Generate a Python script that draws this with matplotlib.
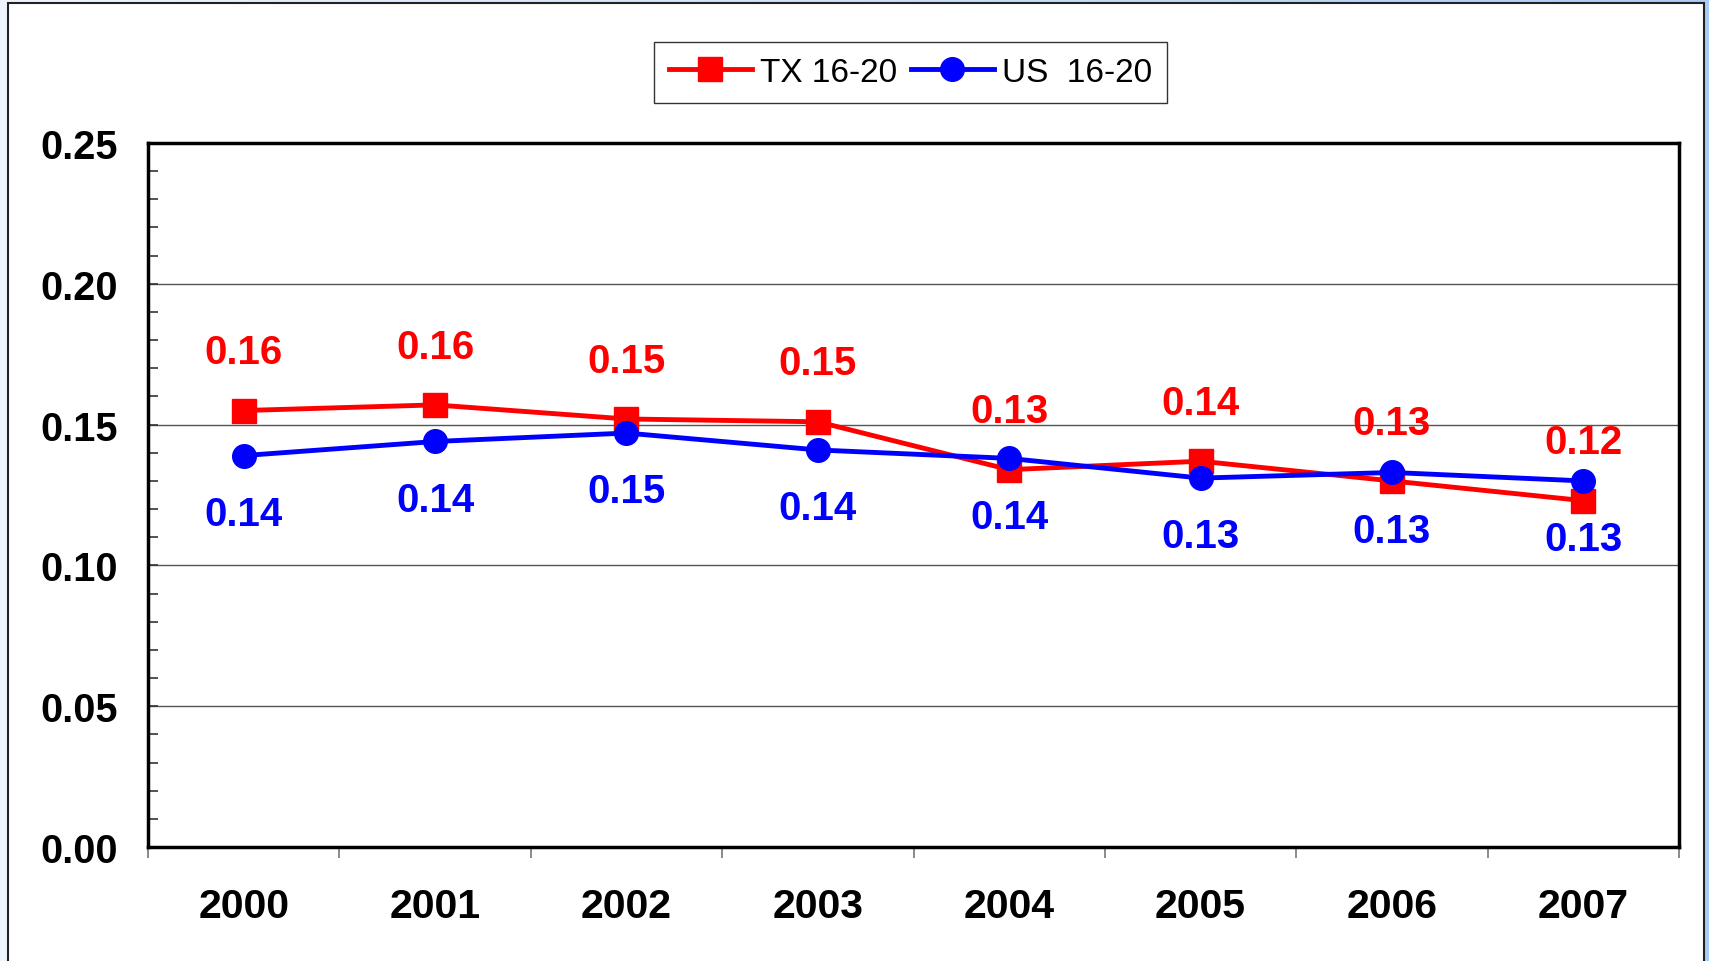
import matplotlib
matplotlib.use("Agg")
import matplotlib.pyplot as plt
import numpy as np
from matplotlib.patches import Rectangle
from matplotlib.colors import LinearSegmentedColormap

plt.rcParams['font.family'] = ['Liberation Sans', 'DejaVu Sans']

years = ['2000', '2001', '2002', '2003', '2004', '2005', '2006', '2007']
tx_values = [0.155, 0.157, 0.152, 0.151, 0.134, 0.137, 0.130, 0.123]
us_values = [0.139, 0.144, 0.147, 0.141, 0.138, 0.131, 0.133, 0.130]
tx_labels = ['0.16', '0.16', '0.15', '0.15', '0.13', '0.14', '0.13', '0.12']
us_labels = ['0.14', '0.14', '0.15', '0.14', '0.14', '0.13', '0.13', '0.13']
y_ticks = [0.00, 0.05, 0.10, 0.15, 0.20, 0.25]
y_tick_labels = ['0.00', '0.05', '0.10', '0.15', '0.20', '0.25']

W, H = 1709, 962
fig = plt.figure(figsize=(W / 100, H / 100), dpi=100)

# background gradient
bg = fig.add_axes([0, 0, 1, 1], zorder=-10)
grad = np.linspace(0, 1, 256).reshape(1, -1)
cmap = LinearSegmentedColormap.from_list('bg', ['#eef4fd', '#a9cdf7'])
bg.imshow(grad, aspect='auto', cmap=cmap, extent=[0, 1, 0, 1])
bg.axis('off')
bg.add_patch(Rectangle((8 / W, -0.05), (1704 - 8) / W, (H - 4) / H + 0.05,
                       transform=bg.transAxes, facecolor='white',
                       edgecolor='#222222', linewidth=1.5))

left, right, top, bottom = 148, 1679, 144, 848
ax = fig.add_axes([left / W, 1 - bottom / H, (right - left) / W, (bottom - top) / H])

x = np.arange(len(years))
ax.plot(x, tx_values, color='#ff0000', lw=3.5, marker='s', ms=17,
        label='TX 16-20', zorder=4)
ax.plot(x, us_values, color='#0000ff', lw=3.5, marker='o', ms=17,
        label='US  16-20', zorder=4)

for xi, v, s in zip(x, tx_values, tx_labels):
    ax.annotate(s, (xi, v), xytext=(0, 42), textcoords='offset points',
                ha='center', va='center', color='#ff0000', fontsize=29,
                fontweight='bold')
for xi, v, s in zip(x, us_values, us_labels):
    ax.annotate(s, (xi, v), xytext=(0, -42), textcoords='offset points',
                ha='center', va='center', color='#0000ff', fontsize=29,
                fontweight='bold')

ax.set_xlim(-0.5, len(years) - 0.5)
ax.set_ylim(0, 0.25)
ax.set_yticks(y_ticks)
ax.set_yticklabels(y_tick_labels, fontsize=28.5, fontweight='bold')
ax.set_yticks(np.arange(0, 0.2501, 0.01), minor=True)
ax.tick_params(axis='y', which='both', direction='in', length=7, width=1.2,
               color='#333333', pad=22)
ax.grid(axis='y', which='major', color='#555555', lw=1)

ax.set_xticks(x)
ax.set_xticklabels(years, fontsize=29.5, fontweight='bold')
ax.tick_params(axis='x', which='major', length=0, pad=29)
ax.set_xticks(np.arange(-0.5, len(years), 1), minor=True)
ax.tick_params(axis='x', which='minor', direction='out', length=8,
               width=1.2, color='#777777')

for sp in ax.spines.values():
    sp.set_linewidth(2.5)
    sp.set_color('black')
ax.set_axisbelow(True)

leg = fig.legend(loc='center', bbox_to_anchor=((656 + 1165) / 2 / W, 1 - 73 / H),
                 ncol=2, fontsize=24, frameon=True, fancybox=False,
                 edgecolor='black', handlelength=2.5, handletextpad=0.25,
                 columnspacing=0.4, borderpad=0.45, markerscale=1.0)
leg.get_frame().set_linewidth(1.0)

fig.savefig('out.png', dpi=100)
